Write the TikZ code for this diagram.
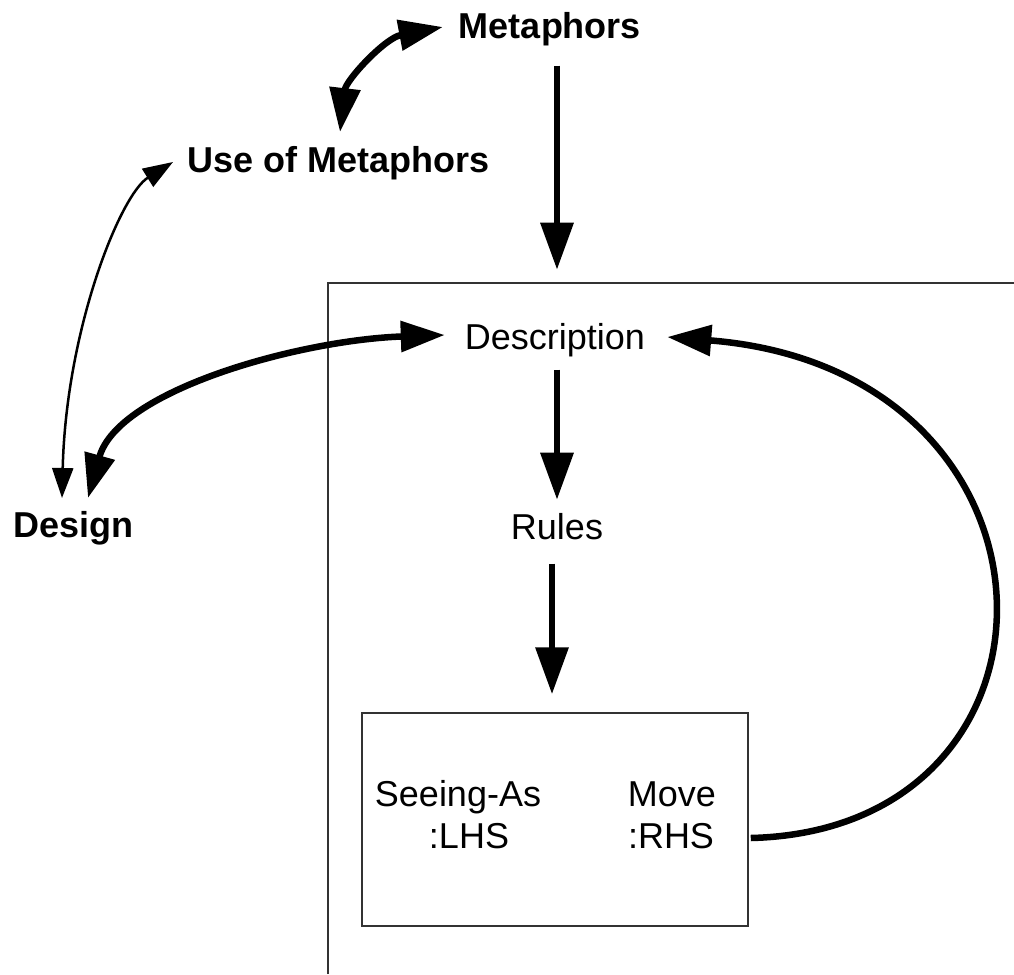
\documentclass[tikz,border=0pt]{standalone}
\usepackage{fontspec}
\setmainfont{Liberation Sans}
\usetikzlibrary{arrows.meta}
\begin{document}
\begin{tikzpicture}[x=1pt,y=-1pt,
  lbl/.style={inner sep=0pt,font=\fontsize{36pt}{42pt}\selectfont},
  blbl/.style={lbl,font=\fontsize{36pt}{42pt}\selectfont\bfseries},
  boxline/.style={draw=black!80,line width=1.5pt},
  thickarrow/.style={line width=6.5pt,-{Triangle[length=47pt,width=32pt]}},
  thickboth/.style={line width=6.5pt,{Triangle[length=44pt,width=30pt]}-{Triangle[length=44pt,width=30pt]}},
  thinboth/.style={line width=2.5pt,{Triangle[length=30pt,width=21pt]}-{Triangle[length=30pt,width=21pt]}}]
\useasboundingbox (0,0) rectangle (1014,974);
% outer frame (open to right and bottom)
\draw[boxline] (328,974) -- (328,283) -- (1014,283);
% nodes
\node[blbl,anchor=base] (met) at (550,38) {Metaphors};
\node[blbl,anchor=base west] (use) at (187,172) {Use of Metaphors};
\node[blbl,anchor=base west] (design) at (13,537) {Design};
\node[lbl,anchor=base] (desc) at (555,349) {Description};
\node[lbl,anchor=base] (rules) at (557,539) {Rules};
\node[boxline,minimum width=386pt,minimum height=213pt,inner sep=0pt] (inner) at (555,819.5) {};
\node[lbl,anchor=base] (lhsa) at (458,806) {Seeing-As};
\node[lbl,anchor=base] (lhsb) at (469,848) {:LHS};
\node[lbl,anchor=base] (rhsa) at (672,806) {Move};
\node[lbl,anchor=base] (rhsb) at (671,848) {:RHS};
% straight arrows
\draw[thickarrow] ([shift={(7,20)}]met.south) -- ([shift={(2,-53)}]desc.north);
\draw[thickarrow] ([shift={(2,13)}]desc.south) -- ([shift={(0,-13)}]rules.north);
\draw[thickarrow] ([shift={(-5,24)}]rules.south) -- ([shift={(-3,-18)}]inner.north);
% Metaphors <-> Use of Metaphors
\draw[thickboth] ([shift={(153,-40)}]use.base west) .. controls (346,80) and (385,38) .. ([shift={(-16,-11)}]met.base west);
% Use of Metaphors <-> Design (thin)
\draw[thinboth] ([shift={(-14,-10)}]use.base west) .. controls (120,195) and (66,330) .. ([shift={(49,-39)}]design.base west);
% Design <-> Description
\draw[thickboth] ([shift={(75,-39)}]design.base west) .. controls (118,390) and (300,340) .. ([shift={(-20,-14)}]desc.base west);
% Move :RHS -> Description
\draw[thickarrow,-{Triangle[length=44pt,width=30pt]}] ([shift={(2,18.5)}]inner.east) .. controls (1088,830) and (1083,370) .. ([shift={(22,-12)}]desc.base east);
\end{tikzpicture}
\end{document}
